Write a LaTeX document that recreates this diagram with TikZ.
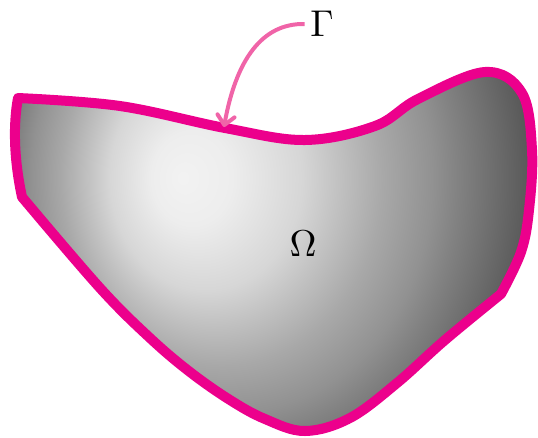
\documentclass[tikz,border=0pt]{standalone}
\usepackage{graphicx}
\usetikzlibrary{arrows.meta}
\definecolor{bordc}{RGB}{236,0,140}
\definecolor{arrc}{RGB}{240,100,168}
\pgfdeclareradialshading{blobshade}{\pgfpoint{-25bp}{0bp}}{color(0bp)=(black!5); color(10bp)=(black!7); color(24bp)=(black!16); color(31bp)=(black!24); color(40bp)=(black!34); color(50bp)=(black!43); color(55bp)=(black!49); color(70bp)=(black!66); color(85bp)=(black!78); color(100bp)=(black!86)}
\newcommand{\blobpath}{plot[smooth,tension=0.6] coordinates {(18,98) (120,106) (225,128) (305,140) (375,126) (418,99) (485,72) (522,93) (532,150) (529,210) (521,252) (501,294)} -- plot[smooth,tension=0.6] coordinates {(501,294) (445,340) (397,383) (350,418) (305,431) (265,419) (230,400) (190,372) (150,338) (100,288) (22,197)} .. controls (14,160) and (13,125) .. (18,98) -- cycle}
\newcommand{\biglbl}[1]{\scalebox{2.8}{$#1$}}
\tikzset{
  border/.style={draw=bordc, line width=7.5pt, line join=round},
  lbl/.style={inner sep=4pt},
  arr/.style={draw=arrc, line width=3pt, -{Straight Barb[length=7pt,width=13pt,round]}}
}
\begin{document}
\begin{tikzpicture}[x=0.75pt,y=-0.75pt]
\useasboundingbox (0,0) rectangle (538,437);
\begin{scope}
\clip \blobpath;
\pgftransformcm{3}{0}{0}{3.5}{\pgfpointxy{282}{178}}
\pgflowlevelsynccm
\pgfuseshading{blobshade}
\end{scope}
\draw[border] \blobpath;
\node[lbl] (O) at (303,244) {\biglbl{\Omega}};
\node[lbl] (G) at (322,24) {\biglbl{\Gamma}};
\coordinate (T) at (224,127);
\draw[arr] (G.west) .. controls (262,23) and (236,60) .. (T);
\end{tikzpicture}
\end{document}
